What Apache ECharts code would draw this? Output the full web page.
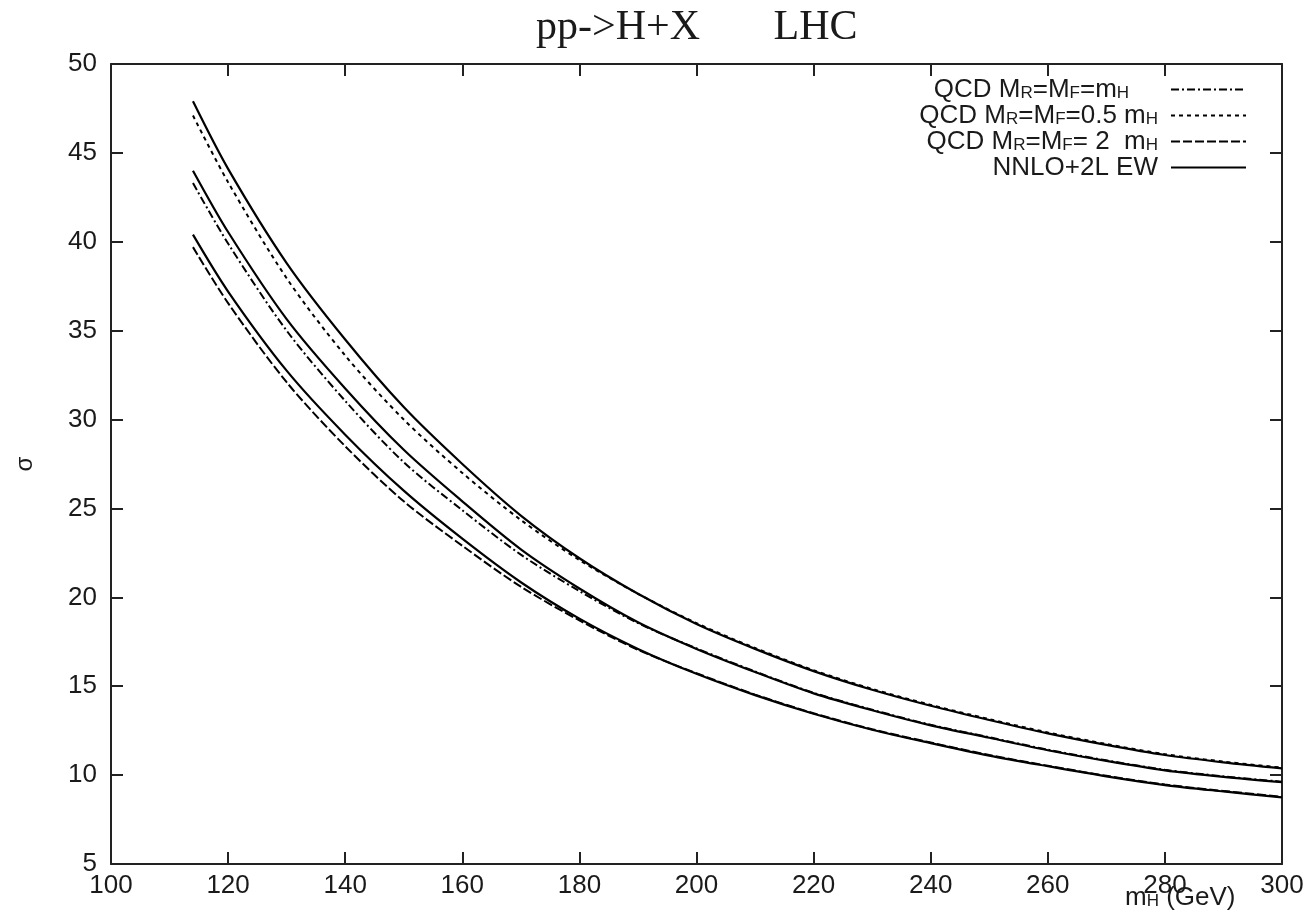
<!DOCTYPE html>
<html>
<head>
<meta charset="utf-8">
<title>pp->H+X LHC</title>
<script src="https://cdn.jsdelivr.net/npm/echarts@6/dist/echarts.min.js"></script>
<style>
  html, body { margin: 0; padding: 0; background: #ffffff; }
  #chart { width: 1310px; height: 920px; }
</style>
</head>
<body>
<div id="chart"></div>
<script>
// Higgs mass points (GeV)
const mH = [114, 120, 130, 140, 150, 160, 170, 180, 190, 200, 210, 220, 230, 240, 250, 260, 270, 280, 290, 300];

// QCD cross sections for three scale choices
const qcdCentral = [43.3, 39.9, 35.0, 31.05, 27.6, 24.9, 22.4, 20.35, 18.55, 17.13, 15.83, 14.63, 13.68, 12.83, 12.13, 11.43, 10.83, 10.3, 9.93, 9.63];
const qcdHalf    = [47.1, 43.35, 37.95, 33.6, 30.0, 27.0, 24.35, 22.1, 20.2, 18.55, 17.15, 15.9, 14.85, 13.95, 13.15, 12.4, 11.75, 11.18, 10.76, 10.42];
const qcdDouble  = [39.7, 36.55, 32.1, 28.5, 25.4, 22.9, 20.6, 18.7, 17.05, 15.73, 14.53, 13.48, 12.58, 11.83, 11.13, 10.53, 9.96, 9.47, 9.11, 8.78];

// NNLO + two-loop electroweak corrections, same three scale choices
const nnloCentral = [44.0, 40.55, 35.65, 31.75, 28.3, 25.4, 22.7, 20.5, 18.6, 17.1, 15.8, 14.6, 13.65, 12.8, 12.1, 11.4, 10.8, 10.27, 9.9, 9.6];
const nnloHalf    = [47.9, 44.1, 38.8, 34.5, 30.7, 27.5, 24.6, 22.2, 20.2, 18.5, 17.1, 15.85, 14.8, 13.9, 13.1, 12.35, 11.7, 11.13, 10.72, 10.38];
const nnloDouble  = [40.4, 37.2, 32.75, 29.15, 26.0, 23.3, 20.85, 18.8, 17.1, 15.7, 14.5, 13.45, 12.55, 11.8, 11.1, 10.5, 9.93, 9.44, 9.08, 8.75];

// Axis ticks
const xTicks = { min: 100, max: 300, step: 20 };
const yTicks = { min: 5, max: 50, step: 5 };

const pairs = ys => mH.map((x, i) => [x, ys[i]]);

const legendNames = {
  central: 'QCD MR=MF=mH',
  half: 'QCD MR=MF=0.5 mH',
  double: 'QCD MR=MF= 2 mH',
  nnlo: 'NNLO+2L EW'
};
const legendRich = {};
legendRich[legendNames.central] = '{t|QCD M}{s|R}{t|=M}{s|F}{t|=m}{s|H}{t|    }';
legendRich[legendNames.half]    = '{t|QCD M}{s|R}{t|=M}{s|F}{t|=0.5 m}{s|H}';
legendRich[legendNames.double]  = '{t|QCD M}{s|R}{t|=M}{s|F}{t|= 2  m}{s|H}';
legendRich[legendNames.nnlo]    = '{t|NNLO+2L EW}';

const SANS = '"Liberation Sans", Arial, Helvetica, sans-serif';
const TEXT = '#1a1a1a';
const FRAME = '#222222';

// main text with a lowered, smaller subscript
const subRich = {
  t: { fontFamily: SANS, fontWeight: 'normal', fontSize: 26, color: TEXT, lineHeight: 25, verticalAlign: 'top', padding: [0, 0, 6, 0] },
  s: { fontFamily: SANS, fontWeight: 'normal', fontSize: 17, color: TEXT, lineHeight: 17, verticalAlign: 'bottom' }
};

function lineSeries(name, ys, dash, width) {
  return {
    name: name,
    type: 'line',
    data: pairs(ys),
    smooth: 0.3,
    symbol: 'none',
    showSymbol: false,
    silent: true,
    animation: false,
    itemStyle: { color: '#000000' },
    lineStyle: { color: '#000000', width: width, type: dash }
  };
}

const axisCommon = {
  type: 'value',
  axisLine: { show: true, onZero: false, lineStyle: { color: FRAME, width: 2 } },
  axisTick: { show: true, inside: true, length: 12, lineStyle: { color: FRAME, width: 2 } },
  splitLine: { show: false }
};

const chart = echarts.init(document.getElementById('chart'), null, { renderer: 'canvas' });

chart.setOption({
  backgroundColor: '#ffffff',
  animation: false,
  title: [
    {
      text: 'pp->H+X       LHC',
      left: 531,
      top: 2,
      textStyle: { fontFamily: '"Liberation Serif", "Times New Roman", serif', fontWeight: 'normal', fontSize: 42, color: TEXT }
    },
    {
      text: '{t|m}{s|H}{t| (GeV)}',
      left: 1120,
      top: 880,
      textStyle: { fontFamily: SANS, fontWeight: 'normal', rich: subRich }
    }
  ],
  grid: { left: 111, right: 28, top: 64, bottom: 56, containLabel: false },
  legend: {
    orient: 'vertical',
    right: 58,
    top: 72,
    align: 'right',
    itemWidth: 75,
    itemHeight: 14,
    itemGap: -6,
    selectedMode: false,
    itemStyle: { opacity: 0 },
    data: [legendNames.central, legendNames.half, legendNames.double, legendNames.nnlo],
    formatter: name => legendRich[name],
    textStyle: { fontFamily: SANS, padding: [0, 8, 0, 0], rich: subRich }
  },
  xAxis: [
    Object.assign({}, axisCommon, {
      position: 'bottom',
      min: xTicks.min, max: xTicks.max, interval: xTicks.step,
      axisLabel: { show: true, margin: 9, fontFamily: SANS, fontSize: 26, color: TEXT, showMinLabel: true, showMaxLabel: true }
    }),
    Object.assign({}, axisCommon, {
      position: 'top',
      min: xTicks.min, max: xTicks.max, interval: xTicks.step,
      axisLabel: { show: false }
    })
  ],
  yAxis: [
    Object.assign({}, axisCommon, {
      position: 'left',
      min: yTicks.min, max: yTicks.max, interval: yTicks.step,
      name: 'σ',
      nameLocation: 'middle',
      nameRotate: 90,
      nameGap: 74,
      nameTextStyle: { fontFamily: SANS, fontSize: 24, color: TEXT },
      axisLabel: { show: true, margin: 14, fontFamily: SANS, fontSize: 26, color: TEXT, showMinLabel: true, showMaxLabel: true }
    }),
    Object.assign({}, axisCommon, {
      position: 'right',
      min: yTicks.min, max: yTicks.max, interval: yTicks.step,
      axisLabel: { show: false }
    })
  ],
  series: [
    lineSeries(legendNames.central, qcdCentral, [8, 3, 2, 3], 2),
    lineSeries(legendNames.half, qcdHalf, [4, 4], 2),
    lineSeries(legendNames.double, qcdDouble, [9, 3], 2),
    lineSeries(legendNames.nnlo, nnloHalf, 'solid', 2.2),
    lineSeries(legendNames.nnlo, nnloCentral, 'solid', 2.2),
    lineSeries(legendNames.nnlo, nnloDouble, 'solid', 2.2)
  ]
});
</script>
</body>
</html>
